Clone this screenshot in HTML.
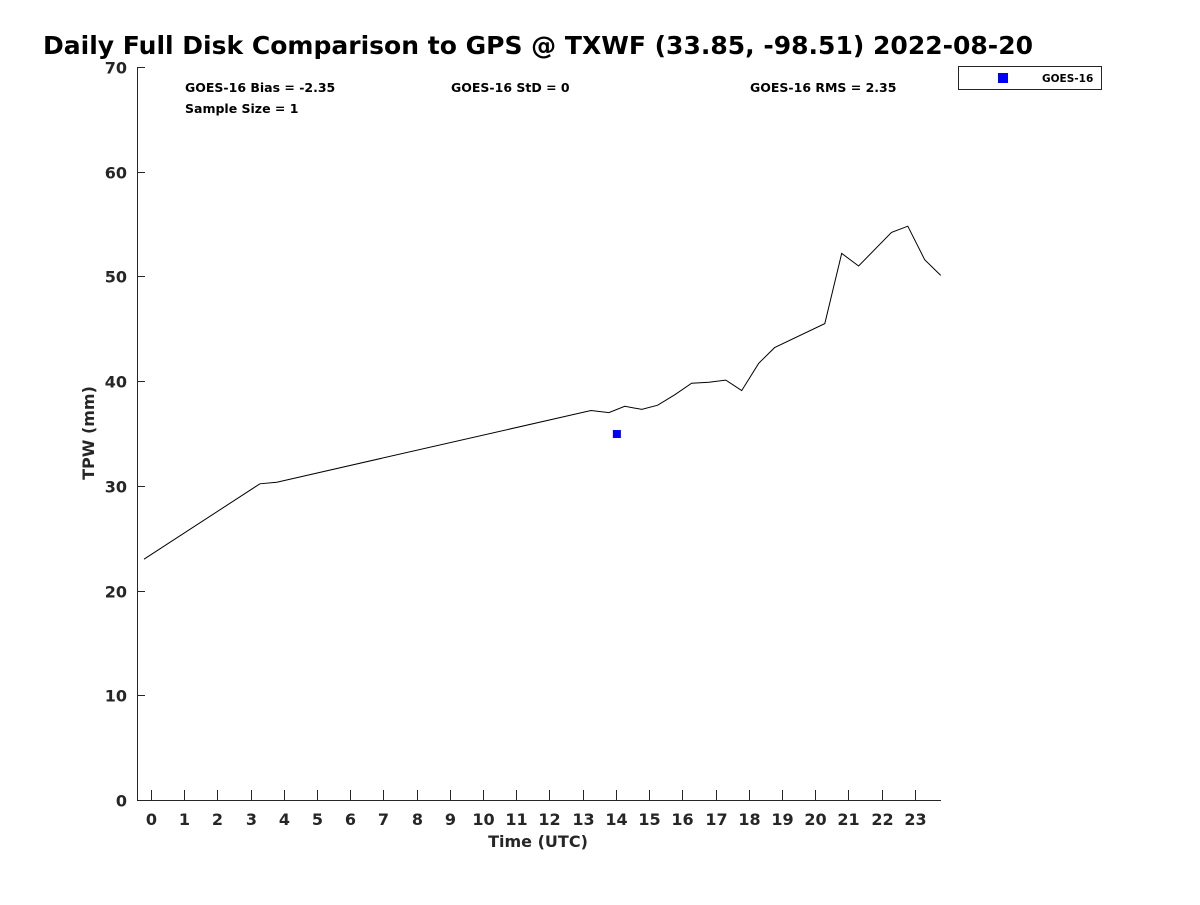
<!DOCTYPE html>
<html><head><meta charset="utf-8"><style>
body{margin:0;background:#fff;}
svg text{font-family:"DejaVu Sans","Liberation Sans",sans-serif;font-weight:bold;fill:#262626;}
</style></head><body>
<svg width="1200" height="900" xmlns="http://www.w3.org/2000/svg">
<text x="43" y="54" font-size="25" textLength="990" lengthAdjust="spacingAndGlyphs" style="fill:#000">Daily Full Disk Comparison to GPS @ TXWF (33.85, -98.51) 2022-08-20</text>
<g id="axes"></g>
<text x="185" y="92" font-size="12.5" style="fill:#000">GOES-16 Bias = -2.35</text>
<text x="185" y="113" font-size="12.5" style="fill:#000">Sample Size = 1</text>
<text x="451" y="92" font-size="12.5" style="fill:#000">GOES-16 StD = 0</text>
<text x="750" y="92" font-size="12.5" style="fill:#000">GOES-16 RMS = 2.35</text>
<g>
<rect x="958.5" y="66.5" width="143" height="23" fill="#fff" stroke="#262626"/>
<rect x="998" y="73" width="10" height="10" fill="#0000ff"/>
<text x="1042" y="82" font-size="10.5" style="fill:#000">GOES-16</text>
</g>
<text transform="translate(94,433) rotate(-90)" text-anchor="middle" font-size="16">TPW (mm)</text>
<text x="538" y="847" text-anchor="middle" font-size="16">Time (UTC)</text>
</svg>
<script>
const gpsHours=[-0.21,3.28,3.79,13.25,13.79,14.27,14.78,15.26,15.77,16.28,16.8,17.31,17.79,18.3,18.78,20.29,20.8,21.31,22.3,22.79,23.3,23.78];
const gpsTpw=[23.0,30.2,30.35,37.2,37.0,37.6,37.3,37.7,38.7,39.8,39.9,40.1,39.1,41.7,43.2,45.5,52.2,51.0,54.2,54.8,51.6,50.1];
const goesHours=[14.03];
const goesTpw=[34.95];
const xTicks=[0,1,2,3,4,5,6,7,8,9,10,11,12,13,14,15,16,17,18,19,20,21,22,23];
const yTicks=[0,10,20,30,40,50,60,70];
const X0=137,X1=941,Y0=800,Y1=67,XMIN=-0.42,XMAX=23.79,YMIN=0,YMAX=70;
const sx=h=>X0+(h-XMIN)/(XMAX-XMIN)*(X1-X0);
const sy=v=>Y0-(v-YMIN)/(YMAX-YMIN)*(Y0-Y1);
const NS='http://www.w3.org/2000/svg';
const svg=document.querySelector('svg');
const g=document.getElementById('axes');
function mk(t,a,p){const e=document.createElementNS(NS,t);for(const k in a)e.setAttribute(k,a[k]);(p||g).appendChild(e);return e;}
let e=mk('path',{d:`M${X0+.5},${Y1} V${Y0+.5} H${X1}`,fill:'none',stroke:'#262626','stroke-width':1});


xTicks.forEach(t=>{const x=Math.round(sx(t))+.5;
 let l=mk('line',{x1:x,x2:x,y1:Y0,y2:Y0-10,stroke:'#262626'});
 
 
 let tx=mk('text',{x:x,y:Y0+25,'text-anchor':'middle','font-size':16});tx.textContent=t;
 
 });
yTicks.forEach(t=>{const y=Math.round(sy(t))+.5;
 let l=mk('line',{x1:X0,x2:X0+8,y1:y,y2:y,stroke:'#262626'});
 
 
 let tx=mk('text',{x:X0-10,y:y+6,'text-anchor':'end','font-size':16});tx.textContent=t;
 
 });
let d=gpsHours.map((h,i)=>(i?'L':'M')+sx(h).toFixed(1)+','+sy(gpsTpw[i]).toFixed(1)).join(' ');
let ln=mk('path',{d:d,fill:'none',stroke:'#000','stroke-width':1},svg);


goesHours.forEach((h,i)=>{let r=mk('rect',{x:sx(h)-4,y:sy(goesTpw[i])-4,width:8,height:8,fill:'#0000ff'},svg);
 
 });
</script>
</body></html>
